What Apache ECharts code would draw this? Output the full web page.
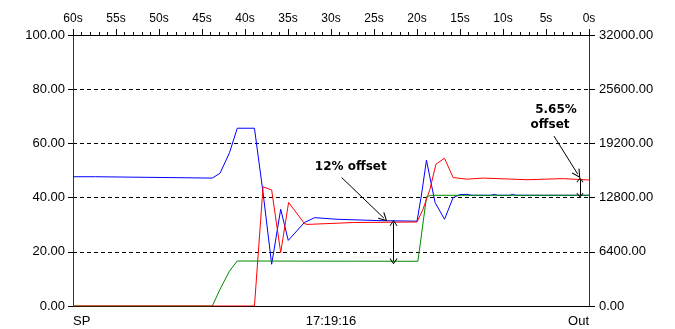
<!DOCTYPE html>
<html>
<head>
<meta charset="utf-8">
<script src="https://cdn.jsdelivr.net/npm/echarts@6/dist/echarts.min.js"></script>
<style>
html,body{margin:0;padding:0;background:#fff;}
#chart{width:675px;height:329px;}
</style>
</head>
<body>
<div id="chart"></div>
<script>
// time in seconds before now (60 = left, 0 = right)
const blueData = [
  [60, 47.7], [57.4, 47.7], [57.2, 47.2], [43.8, 47.2], [42.9, 49], [41.8, 56.6],
  [40.9, 65.6], [38.9, 65.6], [37.9, 41.8], [36.9, 15.4], [35.85, 35.7], [34.97, 24.2],
  [33.1, 30.8], [31.9, 32.6], [29.3, 32.0], [24.3, 31.5], [20.0, 31.3], [19.5, 40.6],
  [18.9, 53.8], [17.9, 38.2], [16.8, 32.0], [15.8, 40.0], [15.0, 41.1], [14.2, 41.2],
  [13.6, 40.85], [11.4, 40.85], [11.0, 41.2], [10.6, 40.85], [9.2, 40.85], [8.9, 41.2],
  [8.5, 40.85], [0, 40.85]
];
const redData = [
  [60, 0], [38.9, 0], [37.9, 44.0], [36.9, 42.8], [35.85, 19.7], [34.93, 38.2],
  [33.1, 30.5], [32.8, 30.1], [27.4, 30.8], [20.0, 31.0], [19.3, 35.7], [18.5, 43.0],
  [17.8, 52.3], [16.8, 54.5], [15.8, 47.4], [14.2, 46.8], [12.3, 47.2], [7.2, 46.6],
  [3.0, 47.0], [0, 46.5]
];
const greenData = [
  [60, 0], [43.8, 0], [42.9, 6.2], [41.8, 12.9], [40.9, 16.6], [19.9, 16.5],
  [19.5, 25.8], [18.9, 40.2], [18.4, 40.85], [0, 40.85]
];
const bottomLabels = {0: 'SP', 30: '17:19:16', 60: 'Out'};
// annotation anchors (data coordinates)
const offset12Text = [27.7, 51.2];
const offset12Arrow = [[28.76, 47.4], [23.84, 32.4]];
const offset12Span = [[22.73, 16.5], [22.73, 30.6]];
const offset565Text1 = [3.84, 72.2];
const offset565Text2 = [4.53, 66.7];
const offset565Arrow = [[4.07, 62.7], [1.3, 48.6]];
const offset565Span = [[1.05, 40.85], [1.05, 46.5]];

const chev = 'path://M5 0L10 9L9 9.7L5 2.3L1 9.7L0 9Z';
const labelFont = {fontFamily: 'Liberation Sans, Arial, sans-serif', fontSize: 13, color: '#000'};
const annFont = {fontFamily: 'DejaVu Sans, Verdana, sans-serif', fontSize: 12, fontWeight: 'bold', color: '#000'};

function pair(a, b, s1, s2, size) {
  return [
    {coord: a, symbol: s1, symbolSize: size},
    {coord: b, symbol: s2, symbolSize: size}
  ];
}
function txt(pos, text) {
  return {coord: pos, value: text, symbol: 'circle', symbolSize: 0,
    label: Object.assign({show: true, position: 'inside', formatter: text}, annFont)};
}

const chart = echarts.init(document.getElementById('chart'));
chart.setOption({
  animation: false,
  backgroundColor: '#fff',
  grid: {left: 73, top: 35, width: 516, height: 271},
  xAxis: [
    {
      type: 'value', position: 'top', min: 0, max: 60, interval: 5, inverse: true,
      axisLine: {show: true, onZero: false, lineStyle: {color: '#000', width: 1}},
      axisTick: {show: true, length: 6, lineStyle: {color: '#000', width: 1}},
      minorTick: {show: true, splitNumber: 5, length: 3, lineStyle: {color: '#000', width: 1}},
      splitLine: {show: false},
      axisLabel: {formatter: v => v + 's', margin: 10, fontFamily: 'Liberation Sans Narrow, Arial Narrow, Arial, sans-serif', fontSize: 12, color: '#000'}
    },
    {
      type: 'value', position: 'bottom', min: 0, max: 60, interval: 30,
      axisLine: {show: true, onZero: false, lineStyle: {color: '#000', width: 1}},
      axisTick: {show: false},
      splitLine: {show: false},
      axisLabel: Object.assign({formatter: v => bottomLabels[v] || '', margin: 9,
        alignMinLabel: 'left', alignMaxLabel: 'right'}, labelFont)
    }
  ],
  yAxis: [
    {
      type: 'value', min: 0, max: 100, interval: 20,
      axisLine: {show: true, onZero: false, lineStyle: {color: '#333', width: 1}},
      axisTick: {show: true, length: 5, lineStyle: {color: '#000', width: 1}},
      splitLine: {show: true, lineStyle: {color: '#000', type: [4, 3], width: 1}},
      axisLabel: Object.assign({formatter: v => v.toFixed(2), margin: 8}, labelFont)
    },
    {
      type: 'value', min: 0, max: 32000, interval: 6400, position: 'right',
      axisLine: {show: true, onZero: false, lineStyle: {color: '#333', width: 1}},
      axisTick: {show: true, length: 6, lineStyle: {color: '#000', width: 1}},
      splitLine: {show: false},
      axisLabel: Object.assign({formatter: v => v.toFixed(2), margin: 10}, labelFont)
    }
  ],
  series: [
    {type: 'line', data: blueData, showSymbol: false, symbol: 'none', lineStyle: {color: '#0000ff', width: 1}, silent: true},
    {type: 'line', data: greenData, showSymbol: false, symbol: 'none', lineStyle: {color: '#008a00', width: 1}, silent: true,
      markLine: {
        silent: true, animation: false,
        label: {show: false},
        lineStyle: {color: '#000', width: 1, type: 'solid'},
        emphasis: {disabled: true},
        data: [
          pair(offset12Arrow[0], offset12Arrow[1], 'none', chev, [9, 9]),
          pair(offset12Span[0], offset12Span[1], chev, chev, [8, 6]),
          pair(offset565Arrow[0], offset565Arrow[1], 'none', chev, [9, 9]),
          pair(offset565Span[0], offset565Span[1], chev, chev, [7, 5])
        ]
      },
      markPoint: {
        silent: true, animation: false,
        data: [
          txt(offset12Text, '12% offset'),
          txt(offset565Text1, '5.65%'),
          txt(offset565Text2, 'offset')
        ]
      }
    },
    {type: 'line', data: redData, showSymbol: false, symbol: 'none', lineStyle: {color: '#ff0000', width: 1}, silent: true}
  ]
});
</script>
</body>
</html>
